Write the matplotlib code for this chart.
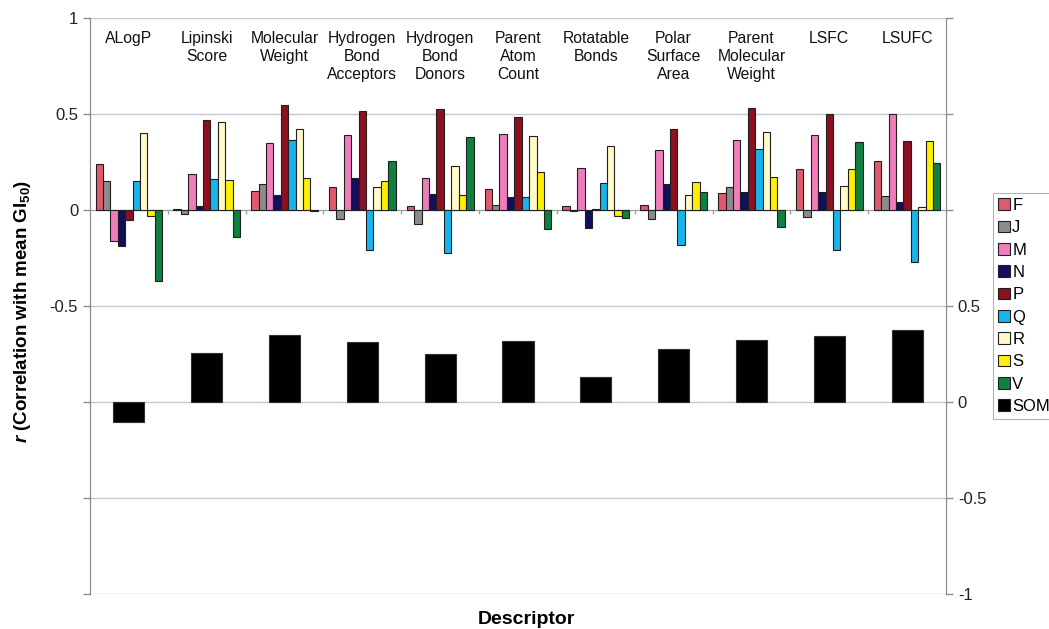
import matplotlib
matplotlib.use('Agg')
import matplotlib.pyplot as plt
import matplotlib.transforms as mtransforms
from matplotlib.patches import Patch
import numpy as np

descriptors = ['ALogP', 'Lipinski\nScore', 'Molecular\nWeight', 'Hydrogen\nBond\nAcceptors',
               'Hydrogen\nBond\nDonors', 'Parent\nAtom\nCount', 'Rotatable\nBonds',
               'Polar\nSurface\nArea', 'Parent\nMolecular\nWeight', 'LSFC', 'LSUFC']

F = [0.24, 0.003, 0.10, 0.118, 0.022, 0.109, 0.019, 0.026, 0.09, 0.212, 0.254]
J = [0.15, -0.02, 0.135, -0.047, -0.075, 0.026, -0.004, -0.045, 0.12, -0.038, 0.075]
M = [-0.16, 0.19, 0.347, 0.39, 0.165, 0.396, 0.22, 0.313, 0.365, 0.39, 0.498]
N = [-0.19, 0.02, 0.08, 0.165, 0.083, 0.07, -0.094, 0.135, 0.095, 0.095, 0.043]
P = [-0.05, 0.47, 0.547, 0.517, 0.524, 0.486, 0.005, 0.423, 0.53, 0.498, 0.36]
Q = [0.15, 0.16, 0.365, -0.208, -0.226, 0.07, 0.14, -0.182, 0.32, -0.208, -0.272]
R = [0.40, 0.46, 0.42, 0.118, 0.23, 0.385, 0.333, 0.076, 0.405, 0.127, 0.017]
S = [-0.03, 0.155, 0.165, 0.153, 0.078, 0.20, -0.031, 0.144, 0.17, 0.213, 0.361]
V = [-0.37, -0.14, -0.005, 0.254, 0.38, -0.10, -0.043, 0.094, -0.087, 0.352, 0.245]
SOM = [-0.104, 0.257, 0.35, 0.31, 0.25, 0.318, 0.128, 0.274, 0.324, 0.343, 0.375]

series_names = ['F', 'J', 'M', 'N', 'P', 'Q', 'R', 'S', 'V']
series_vals = [F, J, M, N, P, Q, R, S, V]
colors = ['#E05A6C', '#8C8C8C', '#F07CBC', '#10105C', '#8C1020', '#18B4EC',
          '#FFFAC8', '#FFF000', '#108040']

plt.rcParams['font.family'] = ['Liberation Sans', 'DejaVu Sans']
plt.rcParams['mathtext.fontset'] = 'custom'
plt.rcParams['mathtext.rm'] = 'Liberation Sans:bold'
plt.rcParams['mathtext.it'] = 'Liberation Sans:italic:bold'

W, H = 1049, 629
fig = plt.figure(figsize=(W / 100, H / 100), dpi=100)
ax = fig.add_axes([90 / W, (H - 594) / H, 856 / W, 576 / H])
ax2 = ax.twinx()

x = np.arange(len(descriptors))
bw = 1 / 10.5
edge = '#202020'
for i, (name, vals, c) in enumerate(zip(series_names, series_vals, colors)):
    ax.bar(x + (i - 4) * bw, vals, bw, color=c, edgecolor=edge, linewidth=0.8,
           zorder=3)
ax2.bar(x, SOM, 0.4, color='black', edgecolor='#303030', linewidth=0.8, zorder=3)

ax.set_xlim(-0.5, len(descriptors) - 0.5)
ax.set_ylim(-2, 1)
ax2.set_ylim(-1, 2)

grid_c = '#C4C9CF'
spine_c = '#8C8C8C'
lt = np.arange(-2, 1.01, 0.5)
ax.set_yticks(lt)
ax.set_yticklabels(['', '', '', '-0.5', '0', '0.5', '1'])
rt = np.arange(-1, 2.01, 0.5)
ax2.set_yticks(rt)
ax2.set_yticklabels(['-1', '-0.5', '0', '0.5', '', '', ''])
ax.yaxis.grid(True, color=grid_c, linewidth=1.0, zorder=0)
ax.set_axisbelow(True)

for a in (ax, ax2):
    a.spines['top'].set_visible(False)
    a.spines['left'].set_color(spine_c)
    a.spines['right'].set_color(spine_c)
    a.tick_params(axis='y', colors=spine_c, labelcolor='#222222', labelsize=12,
                  length=5, width=1)
ax2.spines['bottom'].set_visible(False)
ax.spines['bottom'].set_position(('data', 0))
ax.spines['bottom'].set_color('#A0A0A0')
ax.set_xticks(x[:-1] + 0.5)
ax.set_xticklabels([])
ax.tick_params(axis='x', colors='#A0A0A0', length=3, width=1, direction='out')

trans = mtransforms.blended_transform_factory(ax.transData, ax.transAxes)
for xi, lab in zip(x, descriptors):
    ax.text(xi, 0.977, lab, transform=trans, ha='center', va='top',
            fontsize=11.3, linespacing=1.22, color='#111111', zorder=5)

fig.text(23 / W, 1 - 311 / H, r'$r$ (Correlation with mean GI$_{50}$)',
         rotation=90, ha='center', va='center', fontsize=13.5, fontweight='bold')
fig.text(526 / W, 1 - 620 / H, 'Descriptor', ha='center', va='center',
         fontsize=14, fontweight='bold')

handles = [Patch(facecolor=c, edgecolor=edge, linewidth=0.8) for c in colors]
handles.append(Patch(facecolor='black', edgecolor=edge, linewidth=0.8))
labels = series_names + ['SOM']
leg = fig.legend(handles, labels, loc='upper left',
                 bbox_to_anchor=(993 / W, 1 - 193 / H), fontsize=12,
                 frameon=True, fancybox=False, handlelength=0.7,
                 handleheight=0.7, handletextpad=0.15, labelspacing=0.44,
                 borderpad=0.3, borderaxespad=0)
leg.get_frame().set_edgecolor('#A0A0A0')
leg.get_frame().set_linewidth(0.8)

fig.savefig('out.png', dpi=100)
